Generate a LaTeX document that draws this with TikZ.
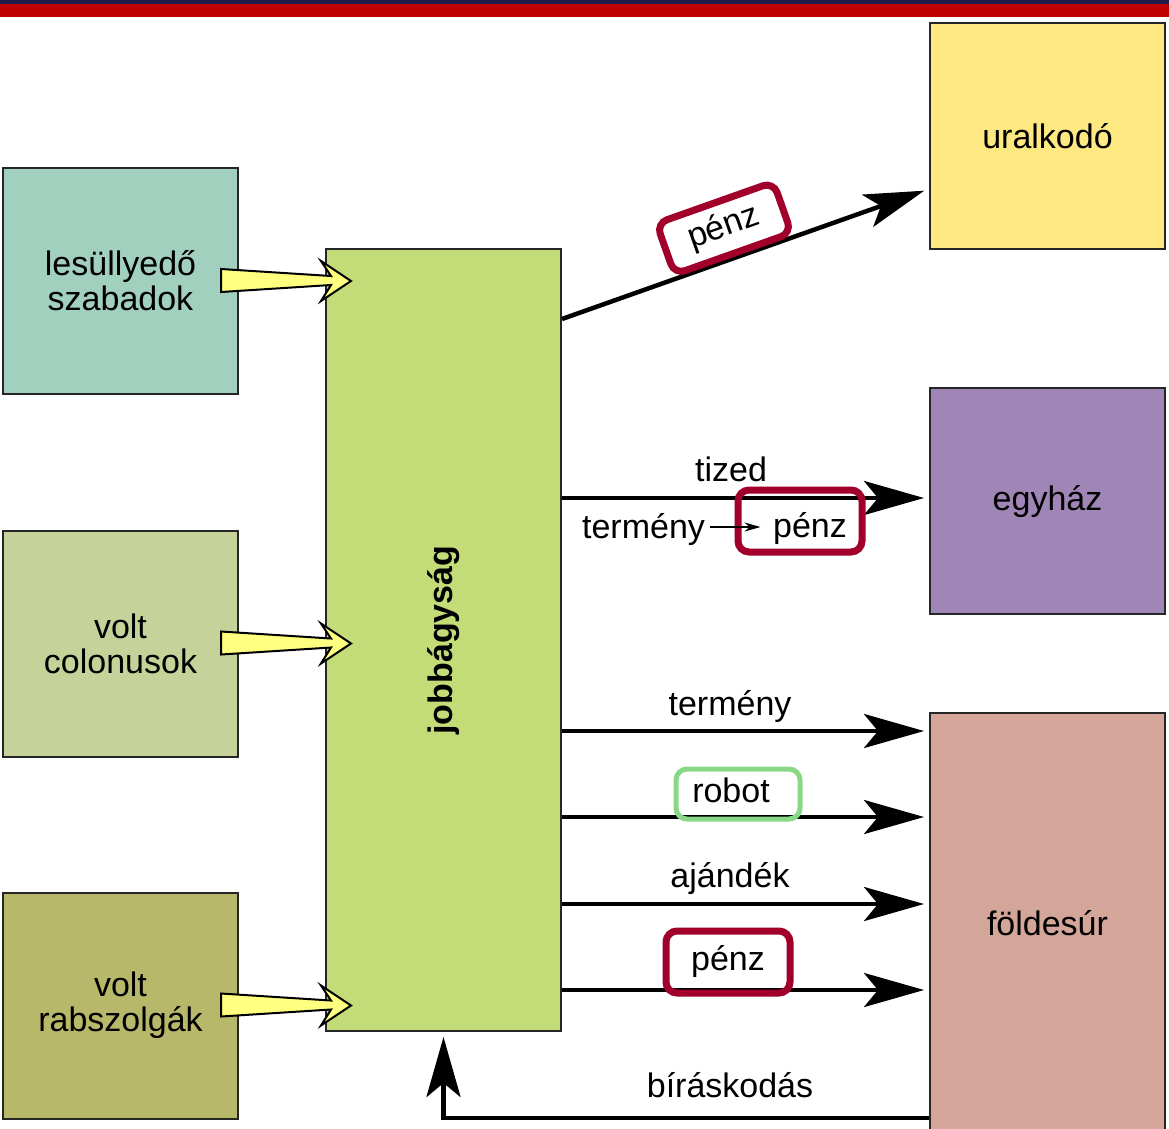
\documentclass[tikz,border=0pt]{standalone}
\usepackage{fontspec}
\setmainfont{Liberation Sans}
\usetikzlibrary{arrows.meta}

\definecolor{rnavy}{HTML}{1E1A4A}
\definecolor{rbar}{HTML}{BF0000}
\definecolor{rteal}{HTML}{A2D0BE}
\definecolor{rsage}{HTML}{C5D39B}
\definecolor{rolive}{HTML}{B8B86A}
\definecolor{rlime}{HTML}{C3DC78}
\definecolor{rsun}{HTML}{FDE882}
\definecolor{rlilac}{HTML}{A086B6}
\definecolor{rrose}{HTML}{D4A69A}
\definecolor{rpale}{HTML}{FFFF80}
\definecolor{rtag}{HTML}{A0002A}
\definecolor{rmint}{HTML}{88D888}

\newcommand{\fs}{\fontsize{34}{35}\selectfont}

\begin{document}
\begin{tikzpicture}[x=1pt,y=-1pt,
  box/.style={draw=black!85,line width=2pt,minimum width=235pt,minimum height=226pt,inner sep=0pt,align=center,font=\fs},
  lbl/.style={font=\fs,inner sep=0pt,anchor=base},
  flow/.style={line width=4.5pt,-{Stealth[length=60pt,width=34pt,inset=14pt]},shorten >=5pt},
  tag/.style={draw=rtag,line width=7pt,rounded corners=11pt,font=\fs,inner sep=0pt,text height=25pt,text depth=8pt},
  pointer/.style={fill=rpale,draw=black,line width=2pt}]
  \useasboundingbox (0,0) rectangle (1169,1128);
  \fill[rnavy] (0,0) rectangle (1169,4);
  \fill[rbar] (0,4) rectangle (1169,17);

  \node[box,fill=rteal] (szabadok) at (120.5,281) {lesüllyedő\\szabadok};
  \node[box,fill=rsage] (colonusok) at (120.5,643.5) {volt\\colonusok};
  \node[box,fill=rolive] (rabszolgak) at (120.5,1005.5) {volt\\rabszolgák};
  \node[box,fill=rlime,minimum height=782pt] (jobb) at (443.5,640) {\rotatebox{90}{\bfseries jobbágyság}};
  \node[box,fill=rsun] (uralkodo) at (1047.5,136) {uralkodó};
  \node[box,fill=rlilac] (egyhaz) at (1047.5,501) {egyház};
  \node[box,fill=rrose,minimum height=420pt] (foldesur) at (1047.5,923) {földesúr};

  \foreach \src in {szabadok,colonusok,rabszolgak}
    \draw[pointer] ([xshift=-18pt,yshift=12pt]\src.east) -- ++(110,7) -- ++(-10,-15) -- ++(30,20)
      -- ++(-30,20) -- ++(10,-16) -- ++(-110,7) -- cycle;

  % to the ruler
  \draw[flow] (jobb.east |- 0,319) -- node[tag,pos=0.47,sloped,above=1pt,minimum width=124pt,minimum height=54pt] (penzA) {pénz} (uralkodo.west |- 0,189);

  % to the church
  \draw[flow] (jobb.east |- 0,498) -- (egyhaz.west |- 0,498);
  \node[lbl] (tized) at (731,481) {tized};
  \node[tag,text height=33pt,text depth=1pt,minimum width=124pt,minimum height=62pt] (penzB) at (800,521) {\hspace*{20pt}pénz};
  \node[lbl] (termenyB) at (643.5,538) {termény};
  \draw[line width=1.5pt,-{Stealth[length=16pt,width=9pt]}] ([xshift=5pt,yshift=2pt]termenyB.east) -- ([xshift=26pt,yshift=2pt]termenyB.east -| penzB.west);

  % to the lord
  \foreach \yy in {731,817,904,990}
    \draw[flow] (jobb.east |- 0,\yy) -- (foldesur.west |- 0,\yy);
  \node[lbl] (termeny) at (730,715) {termény};
  \node[tag,draw=rmint,line width=5pt,minimum width=124pt,minimum height=50pt] (robot) at (738,794) {\hspace*{-14pt}robot};
  \node[lbl] (ajandek) at (730,887) {ajándék};
  \node[tag,minimum width=124pt,minimum height=62pt] (penzC) at (728,962) {pénz};

  % back from the lord
  \draw[flow] (foldesur.west |- 0,1118) -| (jobb.south);
  \node[lbl] (biraskodas) at (730,1097) {bíráskodás};
\end{tikzpicture}
\end{document}
